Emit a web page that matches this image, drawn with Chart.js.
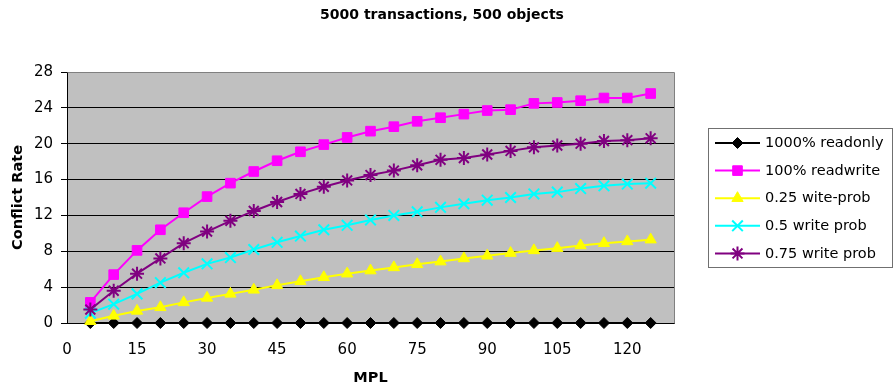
<!DOCTYPE html>
<html><head><meta charset="utf-8">
<script src="https://cdn.jsdelivr.net/npm/chart.js@4/dist/chart.umd.min.js"></script>
<style>html,body{margin:0;padding:0;background:#fff}#wrap{width:893px;height:390px;position:relative}</style>
</head><body><div id="wrap"><canvas id="c" width="893" height="390"></canvas></div>
<script>
const chartTitle = '5000 transactions, 500 objects';
const xTitle = 'MPL';
const yTitle = 'Conflict Rate';
const mpl = [5,10,15,20,25,30,35,40,45,50,55,60,65,70,75,80,85,90,95,100,105,110,115,120,125];
const readonly1000 = [0,0,0,0,0,0,0,0,0,0,0,0,0,0,0,0,0,0,0,0,0,0,0,0,0];
const readwrite100 = [2.3,5.4,8.1,10.4,12.3,14.1,15.6,16.9,18.1,19.1,19.9,20.7,21.4,21.9,22.5,22.9,23.3,23.7,23.8,24.5,24.6,24.8,25.1,25.1,25.6];
const write025 = [0.2,0.8,1.35,1.75,2.3,2.8,3.25,3.7,4.2,4.65,5.1,5.5,5.85,6.2,6.55,6.85,7.2,7.5,7.8,8.1,8.35,8.65,8.9,9.1,9.3];
const write050 = [1.1,2.1,3.25,4.5,5.6,6.6,7.3,8.2,9.0,9.7,10.4,10.9,11.5,12.0,12.4,12.9,13.3,13.7,14.0,14.4,14.6,15.0,15.3,15.5,15.6];
const write075 = [1.5,3.6,5.5,7.2,8.9,10.2,11.4,12.5,13.5,14.4,15.2,15.9,16.5,17.0,17.6,18.2,18.4,18.8,19.2,19.6,19.8,20.0,20.3,20.4,20.6];
const seriesNames = ['1000% readonly','100% readwrite','0.25 wite-prob','0.5 write prob','0.75 write prob'];
const seriesValues = [readonly1000, readwrite100, write025, write050, write075];
const xTickValues = [0,15,30,45,60,75,90,105,120];
const yTickValues = [0,4,8,12,16,20,24,28];

const styles = [
  {color:'#000000', fill:'#000000', pointStyle:'rectRot', radius:5.5, pbw:1},
  {color:'#FF00FF', fill:'#FF00FF', pointStyle:'rect', radius:6.8, pbw:1},
  {color:'#FFFF00', fill:'#FFFF00', pointStyle:'triangle', radius:6.5, pbw:1},
  {color:'#00FFFF', fill:'#00FFFF', pointStyle:'crossRot', radius:7.5, pbw:2},
  {color:'#800080', fill:'#800080', pointStyle:'star', radius:7, pbw:2}
];

const datasets = seriesValues.map((vals, i) => ({
  label: seriesNames[i],
  data: mpl.map((x, j) => ({x: x, y: vals[j]})),
  borderColor: styles[i].color,
  backgroundColor: styles[i].fill,
  pointBackgroundColor: styles[i].fill,
  pointBorderColor: styles[i].color,
  pointStyle: styles[i].pointStyle,
  pointRadius: styles[i].radius,
  pointBorderWidth: styles[i].pbw,
  borderWidth: 2,
  tension: 0,
  order: seriesValues.length - i,
  clip: false
}));

const FONT = 'DejaVu Sans';

const plotBg = {
  id: 'plotBg',
  beforeDraw(chart) {
    const {ctx, chartArea: a} = chart;
    ctx.save();
    ctx.fillStyle = '#C0C0C0';
    ctx.fillRect(a.left, a.top, a.right - a.left, a.bottom - a.top);
    ctx.restore();
  },
  beforeDatasetsDraw(chart) {
    const {ctx, chartArea: a} = chart;
    ctx.save();
    ctx.strokeStyle = '#808080';
    ctx.lineWidth = 1;
    ctx.beginPath();
    ctx.moveTo(Math.round(a.left) + 0.5, Math.round(a.top) + 0.5);
    ctx.lineTo(Math.round(a.right) + 0.5, Math.round(a.top) + 0.5);
    ctx.lineTo(Math.round(a.right) + 0.5, Math.round(a.bottom) + 0.5);
    ctx.stroke();
    ctx.restore();
  }
};

const titleAndLegend = {
  id: 'titleAndLegend',
  afterDraw(chart) {
    const ctx = chart.ctx;
    ctx.save();
    ctx.fillStyle = '#000';
    ctx.font = 'bold 14px "' + FONT + '"';
    ctx.textAlign = 'center';
    ctx.textBaseline = 'middle';
    ctx.fillText(chartTitle, 442, 15);

    // legend box
    const L = {left: 708.5, top: 128.5, right: 892.5, bottom: 267.5};
    ctx.strokeStyle = '#707070';
    ctx.lineWidth = 1;
    ctx.strokeRect(L.left, L.top, L.right - L.left, L.bottom - L.top);
    const rowY0 = 143, gap = 27.6;
    chart.data.datasets.forEach((ds, i) => {
      const y = rowY0 + gap * i;
      ctx.strokeStyle = ds.borderColor;
      ctx.lineWidth = 2;
      ctx.beginPath();
      ctx.moveTo(715, y);
      ctx.lineTo(760, y);
      ctx.stroke();
      ctx.fillStyle = ds.pointBackgroundColor;
      ctx.strokeStyle = ds.pointBorderColor;
      ctx.lineWidth = ds.pointBorderWidth;
      if (Chart.helpers && Chart.helpers.drawPoint) {
        Chart.helpers.drawPoint(ctx, {pointStyle: ds.pointStyle, rotation: 0, radius: ds.pointRadius, borderWidth: ds.pointBorderWidth}, 737.5, y);
      }
      ctx.fillStyle = '#000';
      ctx.font = '14.5px "' + FONT + '"';
      ctx.textAlign = 'left';
      ctx.textBaseline = 'middle';
      ctx.fillText(ds.label, 765, y + 0.5);
    });
    ctx.restore();
  }
};

new Chart(document.getElementById('c'), {
  type: 'line',
  data: {datasets},
  options: {
    responsive: false,
    animation: false,
    devicePixelRatio: 1,
    layout: {padding: {left: 0, right: 219, top: 72, bottom: 0}},
    plugins: {legend: {display: false}, title: {display: false}, tooltip: {enabled: false}},
    scales: {
      x: {
        type: 'linear', min: 0, max: 130,
        afterFit(s) { s.height = 67; },
        afterBuildTicks(s) { s.ticks = xTickValues.map(v => ({value: v})); },
        ticks: {stepSize: 15, includeBounds: false, padding: 11, color: '#000', font: {family: FONT, size: 15}, maxRotation: 0},
        grid: {display: false, drawTicks: true, tickLength: 7},
        border: {display: true, color: '#000', width: 1},
        title: {display: true, text: xTitle, color: '#000', font: {family: FONT, size: 14.5, weight: 'bold'}, padding: {top: 0, bottom: 3}}
      },
      y: {
        min: 0, max: 28,
        afterFit(s) { s.width = 67; },
        afterBuildTicks(s) { s.ticks = yTickValues.map(v => ({value: v})); },
        ticks: {stepSize: 4, padding: 8, color: '#000', font: {family: FONT, size: 15}},
        grid: {display: true, color: c => (c.tick && c.tick.value === 28) ? '#808080' : '#000000', lineWidth: 1, drawTicks: true, tickLength: 6, tickColor: '#000'},
        border: {display: true, color: '#000', width: 1},
        title: {display: true, text: yTitle, color: '#000', font: {family: FONT, size: 14.5, weight: 'bold'}, padding: {top: 10, bottom: 0}}
      }
    }
  },
  plugins: [plotBg, titleAndLegend]
});
</script>
</body></html>
